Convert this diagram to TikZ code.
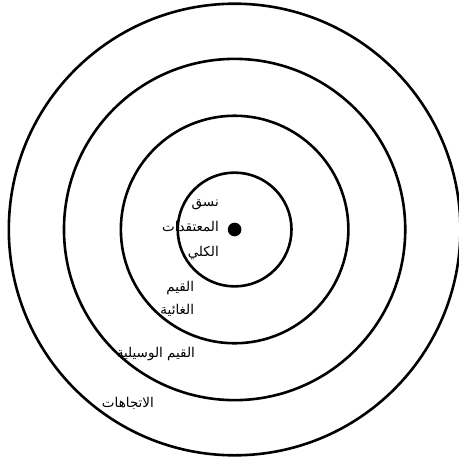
\documentclass[tikz,border=0pt]{standalone}
\usepackage{fontspec}
\newfontfamily\arabicfont[Script=Arabic]{DejaVu Sans}
\TeXXeTstate=1
\newcommand{\artxt}[1]{{\arabicfont\beginR #1\endR}}

\begin{document}
\begin{tikzpicture}[
  ring/.style={draw, line width=2.6pt},
  lbl/.style={anchor=east, align=right, inner sep=0pt, font=\fontsize{13.5}{25}\selectfont}
]
\useasboundingbox (-8.25,-8.14) rectangle (7.86,8.07);

% Rings
\draw[ring] (0,0) circle (2);
\draw[ring] (0,0) circle (4);
\draw[ring] (0,0) circle (6);
\draw[ring] (0,0) circle (7.94);

% Centre dot
\fill (0,0) circle (0.24);

% Labels
\node[lbl] (nasaq) at (-0.55,0) {\artxt{نسق}\\\artxt{المعتقدات}\\\artxt{الكلي}};
\node[lbl, font=\fontsize{13.5}{23}\selectfont] (ghaiya) at (-1.42,-2.43) {\artxt{القيم}\\\artxt{الغائية}};
\node[lbl] (wasiliya) at (-1.39,-4.38) {\artxt{القيم الوسيلية}};
\node[lbl] (ittijahat) at (-2.83,-6.13) {\artxt{الاتجاهات}};

\end{tikzpicture}
\end{document}
